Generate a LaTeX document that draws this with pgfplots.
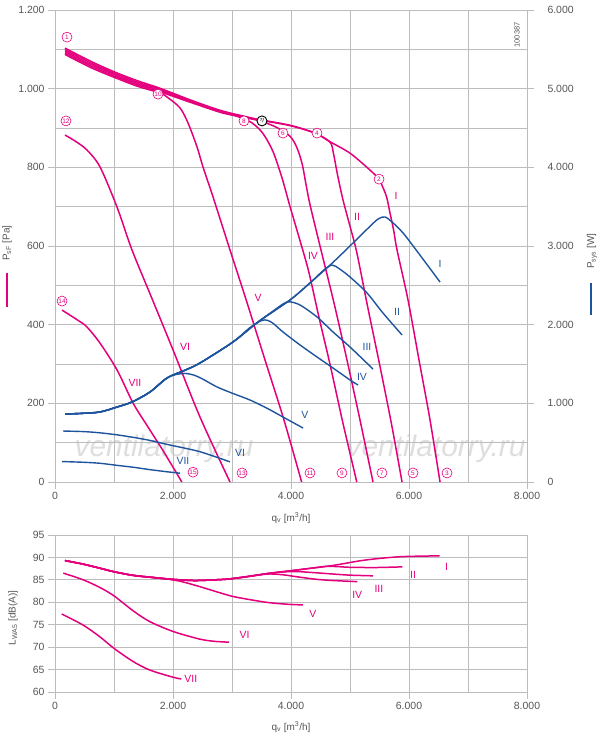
\documentclass[border=0pt]{standalone}
\usepackage{fontspec}
\setmainfont{Liberation Sans}
\usepackage{pgfplots}
\pgfplotsset{compat=1.18}
\definecolor{mag}{RGB}{228,0,124}
\definecolor{blu}{RGB}{30,84,158}
\definecolor{gridc}{RGB}{188,188,188}
\definecolor{txt}{RGB}{85,85,85}
\definecolor{wm}{RGB}{222,222,222}
\tikzset{
 cn/.style={circle, draw=mag, fill=white, text=mag, line width=0.6bp, inner sep=0pt, minimum size=10bp, font=\fontsize{6.5}{7}\selectfont},
 ml/.style={font=\fontsize{10.5}{12}\selectfont, text=mag},
 bl/.style={font=\fontsize{10.5}{12}\selectfont, text=blu},
}
\pgfplotsset{
 common/.style={
  scale only axis, width=472bp,
  xmin=0, xmax=8000,
  scaled x ticks=false, scaled y ticks=false,
  /pgf/number format/1000 sep={.},
  /pgf/number format/assume math mode=true,
  tick align=outside, major tick length=7bp, minor tick length=0pt,
  tick style={gridc, line width=0.8bp},
  axis line style={gridc, line width=0.8bp},
  tick label style={font=\fontsize{10.5}{12}\selectfont, text=txt},
  clip=false,
 },
 gridded/.style={
  common,
  xtick={0,2000,4000,6000,8000},
  minor xtick={1000,3000,5000,7000},
  grid=both,
  major grid style={gridc, line width=0.8bp},
  minor grid style={gridc, line width=0.8bp},
  tick pos=left,
 },
 mline/.style={mag, line width=1.5bp, smooth, tension=0.5, no marks},
 bline/.style={blu, line width=1.4bp, smooth, tension=0.5, no marks},
}
\begin{document}
\begin{tikzpicture}
\path[use as bounding box] (0bp,0bp) rectangle (600bp,740bp);
% watermark
\node[font=\fontsize{30}{30}\selectfont\itshape, text=wm] at (164bp,291bp) {ventilatorry.ru};
\node[font=\fontsize{30}{30}\selectfont\itshape, text=wm] at (436bp,291bp) {ventilatorry.ru};

% ---------- top chart, pressure ----------
\begin{axis}[gridded, at={(55bp,258bp)}, anchor=south west, height=472bp,
  ymin=0, ymax=1200, ytick={0,200,...,1200}, minor ytick={100,300,...,1100}]
\addplot[mline] coordinates {(170,1103)(600,1070)(1017,1042)(1400,1020)(1780,1001)(2300,971)(2797,945)(3200,930)(3474,921)(3983,907)(4407,887)(4661,865)(5000,836)(5339,793)(5490,770)(5560,748)(5622,724)(5678,684)(5740,640)(5797,590)(5983,463)(6170,310)(6356,158)(6526,0)};
\addplot[mline] coordinates {(170,1099)(600,1066)(1017,1038.5)(1400,1016.5)(1780,998)(2300,968.5)(2797,943.5)(3200,929)(3474,920)(3983,906)(4407,887)(4661,864)(4720,835)(4790,780)(4880,718)(5000,650)(5113,585)(5300,445)(5500,300)(5700,150)(5882,0)};
\addplot[mline] coordinates {(170,1095)(600,1062)(1017,1035)(1400,1013)(1780,995)(2300,967)(2797,942)(3200,927)(3474,918)(3750,902)(3983,879)(4100,850)(4190,808)(4260,752)(4330,700)(4508,590)(4729,455)(4949,310)(5169,158)(5390,0)};
\addplot[mline] coordinates {(170,1091)(600,1058)(1017,1031.5)(1400,1009.5)(1780,992)(2300,965)(2797,940)(3100,929)(3339,913)(3525,886)(3695,840)(3850,772)(3980,702)(4150,615)(4300,535)(4480,415)(4660,300)(4880,150)(5115,0)};
\addplot[mline] coordinates {(170,1087)(600,1054)(1017,1028)(1400,1006)(1780,989)(1915,977)(2119,951)(2254,913)(2407,852)(2508,801)(2678,725)(2966,590)(3240,463)(3560,310)(3880,158)(4180,0)};
\addplot[mline] coordinates {(170,882)(350,866)(542,844)(763,801)(1051,699)(1305,590)(1653,463)(2000,336)(2458,165)(2966,0)};
\addplot[mline] coordinates {(119,437)(400,410)(542,394)(763,353)(1051,285)(1322,201)(1554,145)(1830,80)(2150,0)};
\node[ml] at (axis cs:5780,727) {I};
\node[ml] at (axis cs:5119,674) {II};
\node[ml] at (axis cs:4661,623) {III};
\node[ml] at (axis cs:4373,575) {IV};
\node[ml] at (axis cs:3441,468) {V};
\node[ml] at (axis cs:2203,343) {VI};
\node[ml] at (axis cs:1356,252) {VII};
\node[cn] at (axis cs:203,1131) {1};
\node[cn] at (axis cs:5492,770) {2};
\node[cn] at (axis cs:6644,23) {3};
\node[cn] at (axis cs:4441,887) {4};
\node[cn] at (axis cs:6068,23) {5};
\node[cn] at (axis cs:3864,887) {6};
\node[cn] at (axis cs:5542,23) {7};
\node[cn] at (axis cs:3203,918) {8};
\node[cn] at (axis cs:4864,23) {9};
\node[cn] at (axis cs:1746,986) {10};
\node[cn] at (axis cs:4322,23) {11};
\node[cn] at (axis cs:186,918) {12};
\node[cn] at (axis cs:3170,23) {13};
\node[cn] at (axis cs:119,460) {14};
\node[cn] at (axis cs:2339,25) {15};
\node[circle, draw=black, fill=white, line width=0.9bp, inner sep=0pt, minimum size=10bp, font=\fontsize{7.5}{8}\selectfont] at (axis cs:3508,918) {$\eta$};
\end{axis}

% ---------- top chart, power ----------
\begin{axis}[common, at={(55bp,258bp)}, anchor=south west, height=472bp,
  ymin=0, ymax=6000, ytick={0,1000,...,6000},
  axis y line*=right, axis x line=none,
  yticklabel style={xshift=10bp}]
\addplot[bline] coordinates {(170,864)(450,872)(763,890)(1051,953)(1305,1017)(1610,1144)(1898,1322)(2200,1420)(2458,1513)(3017,1780)(3441,2034)(3983,2314)(4322,2530)(4695,2780)(5051,3038)(5339,3250)(5480,3345)(5593,3369)(5720,3300)(5904,3161)(6160,2910)(6526,2542)};
\addplot[bline] coordinates {(170,864)(450,872)(763,890)(1051,953)(1305,1017)(1610,1144)(1898,1322)(2200,1420)(2458,1513)(3017,1780)(3441,2034)(3983,2314)(4322,2530)(4550,2690)(4695,2758)(4820,2710)(5000,2606)(5288,2403)(5559,2148)(5882,1869)};
\addplot[bline] coordinates {(170,864)(450,872)(763,890)(1051,953)(1305,1017)(1610,1144)(1898,1322)(2200,1420)(2458,1513)(3017,1780)(3441,2034)(3700,2175)(3880,2270)(3980,2290)(4153,2250)(4441,2098)(4712,1907)(5000,1716)(5390,1436)};
\addplot[bline] coordinates {(170,864)(450,872)(763,890)(1051,953)(1305,1017)(1610,1144)(1898,1322)(2200,1420)(2458,1513)(3017,1780)(3300,1960)(3500,2052)(3600,2055)(3700,2015)(3864,1907)(4153,1742)(4441,1589)(4712,1449)(5000,1297)(5136,1233)};
\addplot[bline] coordinates {(170,864)(450,872)(763,890)(1051,953)(1305,1017)(1610,1144)(1898,1322)(2050,1366)(2200,1380)(2350,1360)(2500,1310)(2746,1208)(3017,1125)(3305,1042)(3600,935)(3864,826)(4204,686)};
\addplot[bline] coordinates {(136,648)(500,640)(763,625)(1045,600)(1322,568)(1600,530)(1898,478)(2200,430)(2458,385)(2740,315)(2966,256)};
\addplot[bline] coordinates {(119,260)(500,250)(763,238)(1045,212)(1322,188)(1600,158)(1898,130)(2119,112)};
\node[bl] at (axis cs:6526,2771) {I};
\node[bl] at (axis cs:5797,2161) {II};
\node[bl] at (axis cs:5288,1716) {III};
\node[bl] at (axis cs:5203,1335) {IV};
\node[bl] at (axis cs:4237,852) {V};
\node[bl] at (axis cs:3136,369) {VI};
\node[bl] at (axis cs:2169,267) {VII};
\end{axis}

% ---------- bottom chart ----------
\begin{axis}[gridded, at={(55bp,48bp)}, anchor=south west, height=157bp,
  ymin=60, ymax=95, ytick={60,65,...,95}]
\addplot[mline] coordinates {(169,89.3)(479,88.5)(761,87.6)(1003,86.8)(1324,86.0)(1606,85.6)(2000,85.1)(2368,84.85)(2700,85.0)(2952,85.2)(3300,85.8)(3600,86.4)(4100,87.2)(4704,88.2)(5250,89.4)(5842,90.15)(6520,90.35)};
\addplot[mline] coordinates {(169,89.3)(479,88.5)(761,87.6)(1003,86.8)(1324,86.0)(1606,85.6)(2000,85.1)(2368,84.85)(2700,85.0)(2952,85.2)(3300,85.8)(3600,86.4)(4100,87.2)(4400,87.7)(4600,88.0)(4800,87.95)(4994,87.8)(5446,87.75)(5887,87.9)};
\addplot[mline] coordinates {(169,89.3)(479,88.5)(761,87.6)(1003,86.8)(1324,86.0)(1606,85.6)(2000,85.1)(2368,84.85)(2700,85.0)(2952,85.2)(3300,85.8)(3600,86.4)(3850,86.75)(4100,86.85)(4400,86.6)(4712,86.3)(5000,86.05)(5390,85.9)};
\addplot[mline] coordinates {(169,89.3)(479,88.5)(761,87.6)(1003,86.8)(1324,86.0)(1606,85.6)(2000,85.1)(2368,84.85)(2700,85.0)(2952,85.2)(3300,85.8)(3600,86.3)(3850,86.15)(4147,85.6)(4450,85.1)(4712,84.85)(5126,84.6)};
\addplot[mline] coordinates {(169,89.3)(479,88.5)(761,87.6)(1003,86.8)(1324,86.0)(1606,85.6)(1900,85.2)(2150,84.6)(2452,83.5)(2750,82.3)(3050,81.2)(3582,80.0)(3900,79.6)(4203,79.4)};
\addplot[mline] coordinates {(141,86.5)(479,85.0)(761,83.3)(1003,81.4)(1324,78.1)(1606,75.7)(2000,73.5)(2451,71.8)(2700,71.3)(2952,71.1)};
\addplot[mline] coordinates {(113,77.4)(479,74.9)(761,72.3)(1003,69.7)(1324,66.8)(1606,64.9)(2000,63.3)(2141,62.9)};
\node[ml] at (axis cs:6637,87.8) {I};
\node[ml] at (axis cs:6068,86.2) {II};
\node[ml] at (axis cs:5490,82.9) {III};
\node[ml] at (axis cs:5123,81.65) {IV};
\node[ml] at (axis cs:4370,77.4) {V};
\node[ml] at (axis cs:3212,72.8) {VI};
\node[ml] at (axis cs:2303,62.9) {VII};
\end{axis}

% ---------- labels ----------
\node[rotate=90, text=txt, font=\fontsize{10}{12}\selectfont] at (7bp,497bp) {P\textsubscript{sF} [Pa]};
\draw[mag, line width=1.6bp] (7bp,467bp) -- (7bp,433bp);
\node[rotate=90, text=txt, font=\fontsize{10}{12}\selectfont] at (592bp,489bp) {P\textsubscript{sys} [W]};
\draw[blu, line width=1.6bp] (591bp,457bp) -- (591bp,425bp);
\node[text=txt, font=\fontsize{10}{12}\selectfont] at (291bp,222bp) {q\textsubscript{v} [m\textsuperscript{3}/h]};
\node[rotate=90, text=txt, font=\fontsize{10}{12}\selectfont] at (13bp,122bp) {L\textsubscript{WA5} [dB(A)]};
\node[text=txt, font=\fontsize{10}{12}\selectfont] at (291bp,13bp) {q\textsubscript{v} [m\textsuperscript{3}/h]};
\node[rotate=90, text=txt, font=\fontsize{7.5}{8}\selectfont] at (517bp,705bp) {100387};
\end{tikzpicture}
\end{document}
